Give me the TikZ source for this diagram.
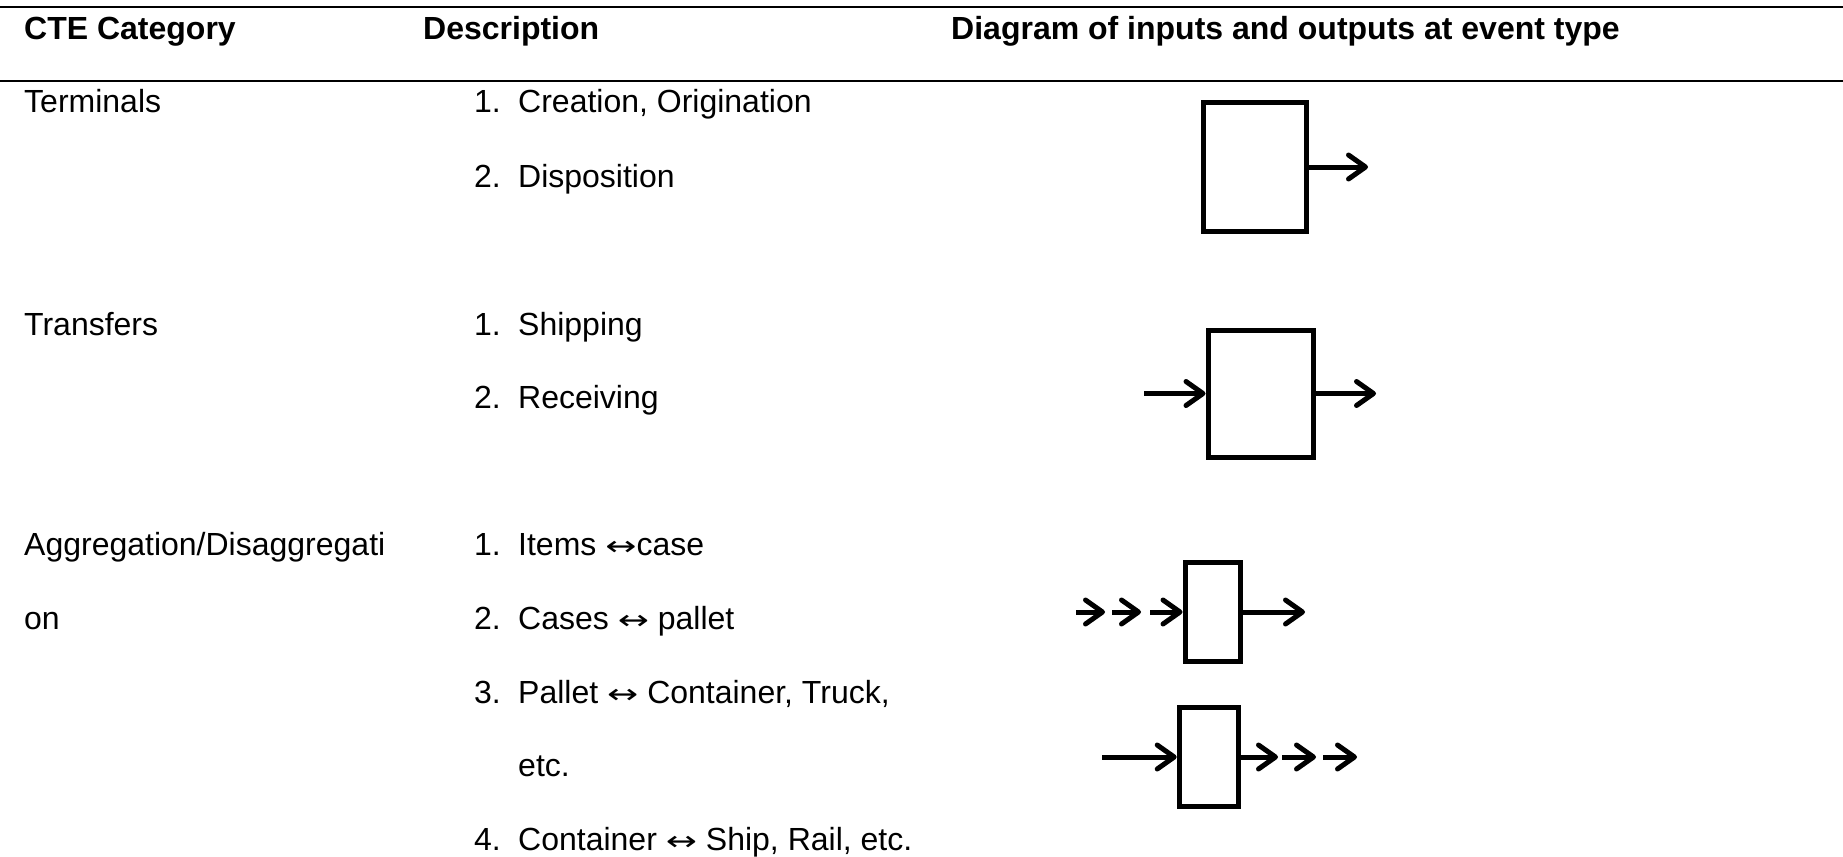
\documentclass[tikz,border=0pt]{standalone}
\usepackage{graphicx}
\usepackage{fontspec}
\setmainfont{Liberation Sans}
\newfontfamily\arrowfont{DejaVu Sans}
\newcommand\lrarr{\scalebox{1.38}[1]{\arrowfont\fontsize{27}{38}\selectfont ↔}}
\usetikzlibrary{arrows.meta}
\begin{document}
\begin{tikzpicture}[x=1pt,y=-1pt,
  txt/.style={anchor=base west, inner sep=0pt, font=\fontsize{32}{38}\selectfont},
  hdr/.style={anchor=base west, inner sep=0pt, font=\fontsize{32}{38}\selectfont\bfseries},
  rulestyle/.style={line width=2.2pt},
  evbox/.style={draw, line width=5pt, inner sep=0pt},
  flow/.style={line width=5pt, -{Straight Barb[length=17pt,width=24pt,round]}},
]
\useasboundingbox (0,0) rectangle (1843,856);

% table rules
\coordinate (r1l) at (0,7);
\coordinate (r1r) at (1843,7);
\coordinate (r2l) at (0,81);
\coordinate (r2r) at (1843,81);
\draw[rulestyle] (r1l) -- (r1r);
\draw[rulestyle] (r2l) -- (r2r);

% header
\node[hdr] (h1) at (24,40) {CTE Category};
\node[hdr] (h2) at (423,40) {Description};
\node[hdr] (h3) at (951,40) {Diagram of inputs and outputs at event type};

% category column
\node[txt] (c1) at (24,113) {Terminals};
\node[txt] (c2) at (24,335) {Transfers};
\node[txt] (c3) at (24,555) {Aggregation/Disaggregati};
\node[txt] (c3b) at (24,629) {on};

% description column
\node[txt] (d11) at (474,113) {\makebox[44pt][l]{1.}Creation, Origination};
\node[txt] (d12) at (474,187) {\makebox[44pt][l]{2.}Disposition};
\node[txt] (d21) at (474,335) {\makebox[44pt][l]{1.}Shipping};
\node[txt] (d22) at (474,408) {\makebox[44pt][l]{2.}Receiving};
\node[txt] (d31) at (474,555) {\makebox[44pt][l]{1.}Items \lrarr case};
\node[txt] (d32) at (474,629) {\makebox[44pt][l]{2.}Cases \lrarr{} pallet};
\node[txt] (d33) at (474,703) {\makebox[44pt][l]{3.}Pallet \lrarr{} Container, Truck,};
\node[txt] (d33b) at (518,776) {etc.};
\node[txt] (d34) at (474,850) {\makebox[44pt][l]{4.}Container \lrarr{} Ship, Rail, etc.};

% terminals diagram
\node[evbox, minimum width=103pt, minimum height=128pt] (b1) at (1255,167) {};
\coordinate (t1) at (1368,167);
\draw[flow] (b1.east) -- (t1);

% transfers diagram
\node[evbox, minimum width=105pt, minimum height=127pt] (b2) at (1260.5,393.5) {};
\coordinate (s2) at (1144,393.5);
\coordinate (t2) at (1376,393.5);
\draw[flow] (s2) -- (b2.west);
\draw[flow] (b2.east) -- (t2);

% aggregation diagram
\node[evbox, minimum width=55pt, minimum height=99.5pt] (b3) at (1212.5,612) {};
\coordinate (a1) at (1076,612);
\coordinate (a2) at (1105,612);
\coordinate (a3) at (1112,612);
\coordinate (a4) at (1141,612);
\coordinate (a5) at (1150,612);
\coordinate (t3) at (1305,612);
\draw[flow] (a1) -- (a2);
\draw[flow] (a3) -- (a4);
\draw[flow] (a5) -- (b3.west);
\draw[flow] (b3.east) -- (t3);

% disaggregation diagram
\node[evbox, minimum width=59pt, minimum height=99.5pt] (b4) at (1208.7,757) {};
\coordinate (s4) at (1102,757);
\coordinate (e1) at (1278,757);
\coordinate (e2) at (1282,757);
\coordinate (e3) at (1316,757);
\coordinate (e4) at (1323,757);
\coordinate (e5) at (1357,757);
\draw[flow] (s4) -- (b4.west);
\draw[flow] (b4.east) -- (e1);
\draw[flow] (e2) -- (e3);
\draw[flow] (e4) -- (e5);
\end{tikzpicture}
\end{document}
